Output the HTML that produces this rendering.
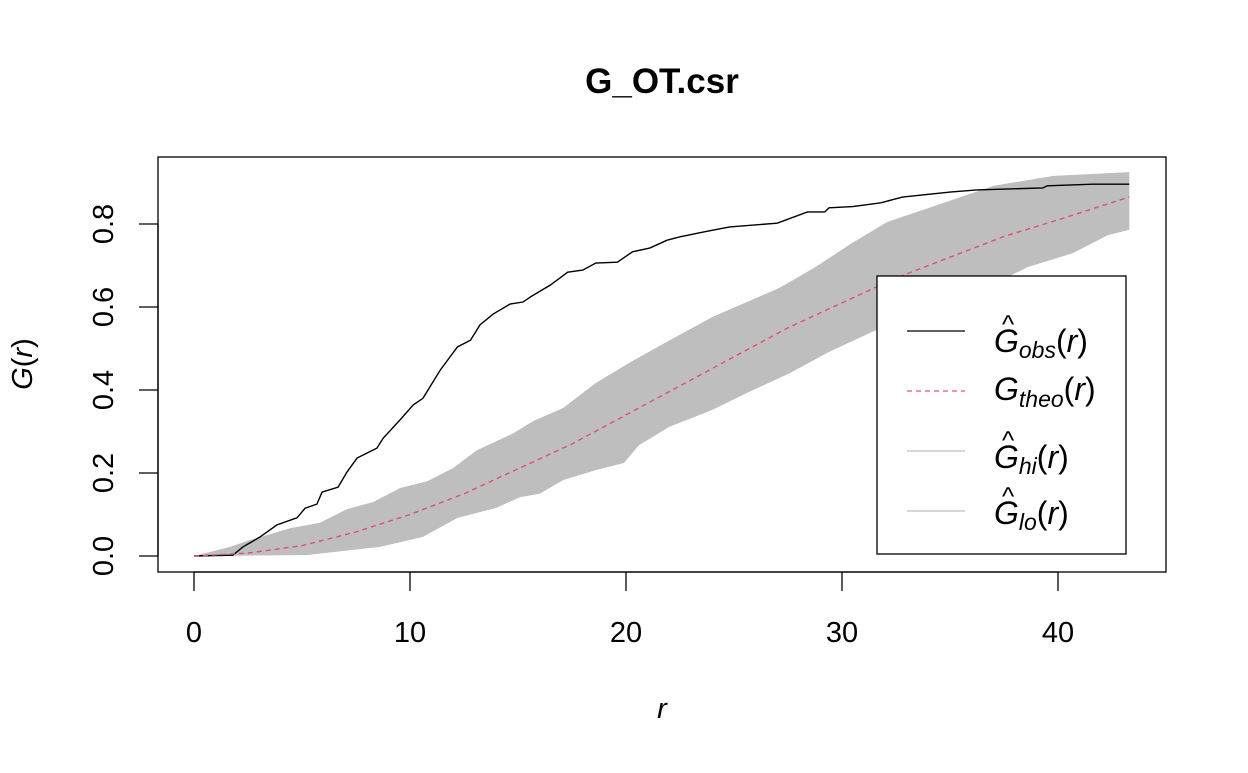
<!DOCTYPE html>
<html><head><meta charset="utf-8"><style>
body{margin:0;background:#fff;font-family:"Liberation Sans",sans-serif}
svg text{font-family:"Liberation Sans",sans-serif}
</style></head><body>
<svg id="chart" width="1248" height="768">
<text x="662" y="93" text-anchor="middle" font-size="35" font-weight="bold">G_OT.csr</text>
<g id="plot"></g>
<rect x="158" y="157" width="1008" height="415" fill="none" stroke="#000" stroke-width="1.3"/>
<g id="xaxis"></g>
<g id="yaxis"></g>
<text x="662" y="718" text-anchor="middle" font-size="29" font-style="italic">r</text>
<text transform="translate(32,364) rotate(-90)" text-anchor="middle" font-size="29"><tspan font-style="italic">G</tspan>(<tspan font-style="italic">r</tspan>)</text>
<g>
<rect x="877" y="276" width="249" height="278" fill="#fff" stroke="#000" stroke-width="1.3"/>
<line x1="907" y1="331" x2="965" y2="331" stroke="#000" stroke-width="1.3"/>
<text x="1002" y="333" font-size="26">^</text>
<text x="994" y="352" font-size="32"><tspan font-style="italic">G</tspan><tspan font-size="23" dy="6" font-style="italic">obs</tspan><tspan dy="-6">(</tspan><tspan font-style="italic">r</tspan>)</text>
<line x1="907" y1="391" x2="965" y2="391" stroke="#DF536B" stroke-width="1.3" stroke-dasharray="5,4"/>
<text x="994" y="400" font-size="32"><tspan font-style="italic">G</tspan><tspan font-size="23" dy="7" font-style="italic">theo</tspan><tspan dy="-7">(</tspan><tspan font-style="italic">r</tspan>)</text>
<line x1="907" y1="451" x2="965" y2="451" stroke="#bebebe" stroke-width="1.3"/>
<text x="1002" y="449" font-size="26">^</text>
<text x="994" y="468" font-size="32"><tspan font-style="italic">G</tspan><tspan font-size="23" dy="6" font-style="italic">hi</tspan><tspan dy="-6">(</tspan><tspan font-style="italic">r</tspan>)</text>
<line x1="907" y1="511" x2="965" y2="511" stroke="#bebebe" stroke-width="1.3"/>
<text x="1002" y="505" font-size="26">^</text>
<text x="994" y="524" font-size="32"><tspan font-style="italic">G</tspan><tspan font-size="23" dy="6" font-style="italic">lo</tspan><tspan dy="-6">(</tspan><tspan font-style="italic">r</tspan>)</text>
</g>
</svg>
<script>
const obsR=[0,1.8,2.27,3.06,3.84,4.77,5.14,5.69,5.93,6.67,7.08,7.55,8.47,8.76,9.54,10.15,10.6,11.4,12.2,12.8,13.24,13.85,14.63,15.23,15.6,16.5,17.3,18.0,18.6,19.6,20.3,21.1,21.9,22.5,23.6,24.8,27.0,28.4,29.2,29.4,30.5,31.8,32.8,35.0,36.25,39.3,39.5,41.6,43.3];
const obsG=[0,0.002,0.022,0.046,0.075,0.092,0.115,0.125,0.154,0.166,0.202,0.236,0.26,0.284,0.328,0.364,0.38,0.448,0.504,0.52,0.557,0.583,0.607,0.612,0.625,0.653,0.684,0.689,0.706,0.708,0.733,0.742,0.761,0.769,0.781,0.793,0.802,0.829,0.829,0.839,0.842,0.851,0.865,0.877,0.882,0.887,0.892,0.896,0.896];
const theoR=[0,2.5,5,7.5,10,12.5,15,17.5,20,22.5,25,27.5,30,32.5,35,37.5,40,43.3];
const theoG=[0,0.007,0.025,0.058,0.10,0.15,0.21,0.27,0.34,0.41,0.48,0.55,0.61,0.67,0.72,0.77,0.81,0.865];
const hiR=[0,1.67,2.45,4.44,5.83,7.08,8.3,9.54,10.8,12.0,13.1,14.8,15.7,17.1,18.6,20.2,22.2,24.0,25.6,27.1,28.7,30.4,32.1,33.75,35.5,37.0,39.8,43.3];
const hiG=[0,0.022,0.036,0.067,0.08,0.113,0.13,0.164,0.18,0.212,0.255,0.296,0.325,0.357,0.417,0.467,0.525,0.576,0.612,0.646,0.694,0.752,0.805,0.834,0.865,0.892,0.916,0.925];
const loR=[0,5.2,8.6,10.6,12.2,14.0,15.1,16.0,17.1,18.6,19.9,20.6,22.0,24.0,25.6,27.6,29.4,31.4,33.5,35.0,36.4,38.6,40.7,42.3,43.3];
const loG=[0,0.002,0.022,0.046,0.092,0.116,0.142,0.15,0.183,0.207,0.224,0.267,0.311,0.352,0.393,0.441,0.492,0.54,0.585,0.615,0.64,0.696,0.73,0.773,0.786];
const xTicks=[0,10,20,30,40];
const yTicks=[0,0.2,0.4,0.6,0.8];
const yTickLabels=["0.0","0.2","0.4","0.6","0.8"];
const X=r=>194+r*21.6, Y=g=>556-g*415;
const NS="http://www.w3.org/2000/svg";
const plot=document.getElementById('plot');
function mk(tag,attrs,parent){const e=document.createElementNS(NS,tag);for(const k in attrs)e.setAttribute(k,attrs[k]);parent.appendChild(e);return e;}
let d='M'+hiR.map((r,i)=>X(r)+','+Y(hiG[i])).join('L');
for(let i=loR.length-1;i>=0;i--)d+='L'+X(loR[i])+','+Y(loG[i]);
const band=mk('path',{d:d+'Z',fill:'#bebebe',stroke:'none'},plot);


const obs=mk('path',{d:'M'+obsR.map((r,i)=>X(r)+','+Y(obsG[i])).join('L'),fill:'none',stroke:'#000','stroke-width':1.4},plot);


const th=mk('path',{d:'M'+theoR.map((r,i)=>X(r)+','+Y(theoG[i])).join('L'),fill:'none',stroke:'#DF536B','stroke-width':1.4,'stroke-dasharray':'5,4'},plot);


const xa=document.getElementById('xaxis'),ya=document.getElementById('yaxis');
mk('line',{x1:X(0),x2:X(40),y1:572,y2:572,stroke:'#000','stroke-width':1.3},xa);
xTicks.forEach(t=>{mk('line',{x1:X(t),x2:X(t),y1:572,y2:591,stroke:'#000','stroke-width':1.3},xa);
const tx=mk('text',{x:X(t),y:642,'text-anchor':'middle','font-size':29},xa);tx.textContent=t;

});
mk('line',{x1:158,x2:158,y1:Y(0),y2:Y(0.8),stroke:'#000','stroke-width':1.3},ya);
yTicks.forEach((t,i)=>{mk('line',{x1:139,x2:158,y1:Y(t),y2:Y(t),stroke:'#000','stroke-width':1.3},ya);
const tx=mk('text',{transform:`translate(113,${Y(t)}) rotate(-90)`,'text-anchor':'middle','font-size':29},ya);tx.textContent=yTickLabels[i];

});
</script>
</body></html>
